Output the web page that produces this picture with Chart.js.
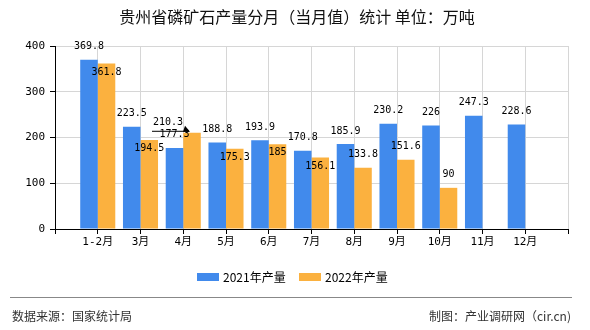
<!DOCTYPE html>
<html>
<head>
<meta charset="utf-8">
<script src="https://cdn.jsdelivr.net/npm/chart.js@4"></script>
<style>
  html, body { margin: 0; padding: 0; background: #fff; }
  #wrap { width: 590px; height: 330px; position: relative; }
</style>
</head>
<body>
<div id="wrap"><canvas id="chart" width="590" height="330"></canvas></div>
<script>
// ================================
// DATA
// ================================
const months = ["1-2月", "3月", "4月", "5月", "6月", "7月", "8月", "9月", "10月", "11月", "12月"];
const prod2021 = [369.8, 223.5, 177.3, 188.8, 193.9, 170.8, 185.9, 230.2, 226, 247.3, 228.6];
const prod2022 = [361.8, 194.5, 210.3, 175.3, 185, 156.1, 133.8, 151.6, 90, null, null];
const seriesNames = ["2021年产量", "2022年产量"];
const yTicks = [0, 100, 200, 300, 400];
// where the 2022 value label sits relative to its bar
const pos2022 = ["below", "below", "arrow", "below", "below", "below", "above", "above", "above"];

const titleText = "贵州省磷矿石产量分月（当月值）统计 单位：万吨";
const sourceText = "数据来源：国家统计局";
const makerText = "制图：产业调研网（cir.cn)";

const colors = ["#418AEC", "#FBB13F"];
const monoFont = "10px 'DejaVu Sans Mono', 'Noto Sans CJK SC', monospace";

// pad both ends with an empty slot so the bars sit one full step in from the axes
const xLabels = [""].concat(months, [""]);
const pad = arr => [null].concat(arr, [null]);

// ================================
// EXTRA DRAWING (title, labels, legend, footer)
// ================================
const extras = {
  id: "extras",
  afterDatasetsDraw(chart) {
    const ctx = chart.ctx;
    ctx.save();
    ctx.font = monoFont;
    ctx.fillStyle = "#000";
    ctx.textAlign = "center";
    ctx.textBaseline = "middle";

    // 2021 labels, always above
    chart.getDatasetMeta(0).data.forEach((bar, i) => {
      const v = chart.data.datasets[0].data[i];
      if (v == null) return;
      ctx.fillText(String(v), bar.x, bar.y - 13);
    });

    // 2022 labels
    chart.getDatasetMeta(1).data.forEach((bar, i) => {
      const v = chart.data.datasets[1].data[i];
      if (v == null) return;
      const p = pos2022[i - 1];
      if (p === "above") {
        ctx.fillText(String(v), bar.x, bar.y - 13);
      } else if (p === "arrow") {
        ctx.fillText(String(v), bar.x - 24, bar.y - 10);
        ctx.strokeStyle = "#000";
        ctx.lineWidth = 1;
        ctx.beginPath();
        ctx.moveTo(bar.x - 40, bar.y - 1.5);
        ctx.lineTo(bar.x - 3, bar.y - 1.5);
        ctx.stroke();
        ctx.beginPath();
        ctx.moveTo(bar.x - 2, bar.y - 1);
        ctx.lineTo(bar.x - 7, bar.y - 7);
        ctx.lineTo(bar.x - 9, bar.y - 1);
        ctx.closePath();
        ctx.fill();
      } else {
        ctx.fillText(String(v), bar.x, bar.y + 8.5);
      }
    });
    ctx.restore();
  },
  afterDraw(chart) {
    const ctx = chart.ctx;
    ctx.save();
    ctx.textBaseline = "middle";

    // title
    ctx.fillStyle = "#111";
    ctx.font = "16px 'Noto Sans CJK SC'";
    ctx.textAlign = "center";
    ctx.fillText(titleText, 297, 17);

    // legend
    ctx.font = "12px 'Noto Sans CJK SC'";
    ctx.textAlign = "left";
    const legendX = [197, 299];
    seriesNames.forEach((name, i) => {
      ctx.fillStyle = colors[i];
      ctx.fillRect(legendX[i], 273, 22, 8);
      ctx.fillStyle = "#000";
      ctx.fillText(name, legendX[i] + 26, 277);
    });

    // footer
    ctx.strokeStyle = "#888";
    ctx.lineWidth = 1;
    ctx.beginPath();
    ctx.moveTo(10, 297.5);
    ctx.lineTo(572, 297.5);
    ctx.stroke();
    ctx.fillStyle = "#333";
    ctx.font = "12px 'Noto Sans CJK SC'";
    ctx.fillText(sourceText, 12, 316);
    ctx.textAlign = "right";
    ctx.fillText(makerText, 571, 316);
    ctx.restore();
  }
};

// ================================
// CHART
// ================================
new Chart(document.getElementById("chart"), {
  type: "bar",
  data: {
    labels: xLabels,
    datasets: [
      { label: seriesNames[0], data: pad(prod2021), backgroundColor: colors[0] },
      { label: seriesNames[1], data: pad(prod2022), backgroundColor: colors[1] }
    ]
  },
  options: {
    responsive: false,
    animation: false,
    layout: { padding: { top: 46, right: 22, bottom: 0, left: 0 } },
    datasets: { bar: { categoryPercentage: 0.82, barPercentage: 1 } },
    plugins: {
      legend: { display: false },
      title: { display: false },
      tooltip: { enabled: false }
    },
    scales: {
      x: {
        offset: false,
        grid: { offset: false, color: "#d6d6d6", tickColor: "#000", tickLength: 5 },
        border: { color: "#000" },
        ticks: {
          autoSkip: false, maxRotation: 0, color: "#000", padding: 2,
          font: { family: "'DejaVu Sans Mono', 'Noto Sans CJK SC'", size: 11 }
        },
        afterFit(scale) { scale.height = 101; }
      },
      y: {
        min: 0,
        max: 400,
        afterBuildTicks(scale) { scale.ticks = yTicks.map(v => ({ value: v })); },
        grid: { color: "#d6d6d6", tickColor: "#000", tickLength: 5 },
        border: { color: "#000" },
        ticks: {
          color: "#000", padding: 5,
          font: { family: "'DejaVu Sans Mono'", size: 11 }
        },
        afterFit(scale) { scale.width = 55; }
      }
    }
  },
  plugins: [extras]
});
</script>
</body>
</html>
